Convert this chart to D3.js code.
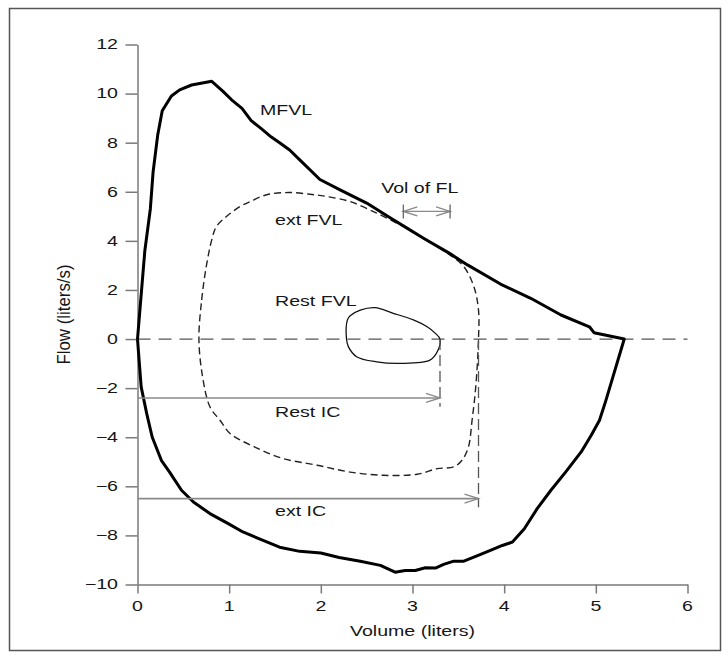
<!DOCTYPE html>
<html><head><meta charset="utf-8">
<script src="https://cdn.jsdelivr.net/npm/d3@7"></script>
<style>html,body{margin:0;padding:0;background:#fff}</style>
</head><body>
<svg id="chart" width="728" height="657"></svg>
<script>
// Maximal flow-volume loop (MFVL): expiration on top, inspiration below
const mfvlVolume = [0, 0.04, 0.08, 0.14, 0.17, 0.22, 0.27, 0.37, 0.46, 0.59, 0.81, 0.93, 1.04, 1.14, 1.24, 1.35, 1.46, 1.55, 1.66, 1.77, 1.99, 2.21, 2.50, 2.76, 2.94, 3.12, 3.40, 3.60, 3.96, 4.29, 4.62, 4.93, 4.98, 5.31,
  5.11, 5.04, 4.95, 4.84, 4.67, 4.51, 4.36, 4.22, 4.09, 3.98, 3.85, 3.71, 3.56, 3.45, 3.34, 3.25, 3.14, 3.03, 2.92, 2.81, 2.65, 2.43, 2.20, 2.00, 1.77, 1.55, 1.33, 1.15, 0.99, 0.79, 0.61, 0.48, 0.35, 0.26, 0.16, 0.10, 0.04, 0];
const mfvlFlow = [0, 1.8, 3.6, 5.3, 6.8, 8.3, 9.3, 9.9, 10.15, 10.35, 10.5, 10.1, 9.7, 9.4, 8.9, 8.57, 8.23, 8.0, 7.7, 7.3, 6.5, 6.08, 5.54, 4.93, 4.52, 4.11, 3.50, 3.02, 2.24, 1.66, 0.98, 0.50, 0.26, 0,
  -2.5, -3.31, -3.92, -4.6, -5.42, -6.16, -6.91, -7.73, -8.27, -8.41, -8.61, -8.82, -9.05, -9.05, -9.18, -9.33, -9.32, -9.43, -9.43, -9.5, -9.22, -9.05, -8.9, -8.72, -8.65, -8.48, -8.14, -7.86, -7.52, -7.11, -6.64, -6.16, -5.42, -4.94, -3.99, -3.03, -1.95, 0];

// Exercise tidal flow-volume loop (ext FVL)
const extVolume = [0.67, 0.70, 0.75, 0.81, 0.86, 0.97, 1.12, 1.23, 1.41, 1.65, 1.88, 2.06, 2.32, 2.61, 2.83, 2.94, 3.12, 3.40, 3.56, 3.67, 3.72, 3.72, 3.69, 3.65, 3.61, 3.54, 3.45, 3.27, 3.05, 2.68, 2.32, 1.96, 1.59, 1.28, 1.01, 0.90, 0.79, 0.71];
const extFlow = [0, 1.59, 2.95, 4.04, 4.58, 4.99, 5.4, 5.6, 5.88, 5.97, 5.9, 5.81, 5.6, 5.13, 4.72, 4.52, 4.11, 3.45, 2.95, 2.13, 1.18, 0, -1.95, -3.31, -4.4, -4.94, -5.21, -5.28, -5.51, -5.55, -5.42, -5.14, -4.87, -4.4, -3.85, -3.31, -2.76, -1.54];

// Resting tidal flow-volume loop (Rest FVL)
const restVolume = [2.28, 2.29, 2.32, 2.43, 2.59, 2.79, 3.01, 3.16, 3.25, 3.30, 3.27, 3.19, 2.87, 2.61, 2.39, 2.30];
const restFlow = [0, 0.78, 0.95, 1.18, 1.28, 1.05, 0.78, 0.50, 0.23, 0, -0.52, -0.86, -0.99, -0.93, -0.72, -0.31];

// Inspiratory capacities and volume of flow limitation
const restIC = 3.30, restICFlow = -2.4, restICDrop = -2.76;
const extIC = 3.72, extICFlow = -6.5, extICDrop = -6.85;
const volFLStart = 2.90, volFLEnd = 3.41, volFLFlow = 5.2;

// Axis ticks
const xTicks = [0, 1, 2, 3, 4, 5, 6];
const xTickLabels = ["0", "1", "2", "3", "4", "5", "6"];
const yTicks = [-10, -8, -6, -4, -2, 0, 2, 4, 6, 8, 10, 12];
const yTickLabels = ["\u221210", "\u22128", "\u22126", "\u22124", "\u22122", "0", "2", "4", "6", "8", "10", "12"];

const svg = d3.select("#chart");
const FONT = "'Liberation Sans', Arial, Helvetica, sans-serif";
const SX = 1.4; // horizontal stretch of the lettering

const x = d3.scaleLinear().domain([0, 6]).range([137.5, 687.5]);
const y = d3.scaleLinear().domain([-10, 12]).range([584.5, 44.5]);

// outer frame
svg.append("rect").attr("x", 9.5).attr("y", 8.5).attr("width", 711).attr("height", 642)
  .attr("fill", "none").attr("stroke", "#555").attr("stroke-width", 1.5);

// axes
const axisColor = "#7a7a7a";
const gx = svg.append("g").attr("transform", `translate(0,${y(-10)})`)
  .call(d3.axisBottom(x).tickValues(xTicks).tickFormat("").tickSizeInner(9).tickSizeOuter(0));
const gy = svg.append("g").attr("transform", `translate(${x(0)},0)`)
  .call(d3.axisLeft(y).tickValues(yTicks).tickFormat("").tickSizeInner(12).tickSizeOuter(0));
[gx, gy].forEach(g => {
  g.selectAll("path, line").attr("stroke", axisColor).attr("stroke-width", 1.5);
});

function label(txt, px, py, anchor, size) {
  return svg.append("text")
    .attr("transform", `translate(${px},${py}) scale(${SX},1)`)
    .attr("dy", "0.35em")
    .attr("text-anchor", anchor)
    .attr("font-family", FONT)
    .attr("font-size", size || 14)
    .attr("fill", "#161616")
    .text(txt);
}

xTicks.forEach((t, i) => label(xTickLabels[i], x(t), 606.5, "middle"));
yTicks.forEach((t, i) => label(yTickLabels[i], 118, y(t), "end"));

// axis titles
label("Volume (liters)", (x(0) + x(6)) / 2, 631, "middle");
svg.append("text")
  .attr("transform", `translate(64,${(y(-10) + y(12)) / 2}) scale(1.25,1) rotate(-90)`)
  .attr("dy", "0.35em").attr("text-anchor", "middle")
  .attr("font-family", FONT).attr("font-size", 14).attr("fill", "#161616")
  .attr("textLength", 100).attr("lengthAdjust", "spacingAndGlyphs")
  .text("Flow (liters/s)");

// zero-flow reference line
svg.append("line")
  .attr("x1", x(0)).attr("x2", x(6)).attr("y1", y(0)).attr("y2", y(0))
  .attr("stroke", "#555").attr("stroke-width", 1.3).attr("stroke-dasharray", "13,8");

// loops
const line = d3.line().x(d => x(d[0])).y(d => y(d[1]));
const zip = (a, b) => a.map((v, i) => [v, b[i]]);

svg.append("path")
  .attr("d", line.curve(d3.curveCatmullRomClosed.alpha(0.5))(zip(extVolume, extFlow)))
  .attr("fill", "none").attr("stroke", "#222").attr("stroke-width", 1.4)
  .attr("stroke-dasharray", "7,4");

svg.append("path")
  .attr("d", line.curve(d3.curveCatmullRomClosed.alpha(0.5))(zip(restVolume, restFlow)))
  .attr("fill", "none").attr("stroke", "#111").attr("stroke-width", 1.3);

svg.append("path")
  .attr("d", line.curve(d3.curveLinear)(zip(mfvlVolume, mfvlFlow)))
  .attr("fill", "none").attr("stroke", "#000").attr("stroke-width", 3)
  .attr("stroke-linejoin", "round");

// IC drop lines
[[restIC, restICDrop], [extIC, extICDrop]].forEach(([v, f]) => {
  svg.append("line")
    .attr("x1", x(v)).attr("x2", x(v)).attr("y1", y(0)).attr("y2", y(f))
    .attr("stroke", "#555").attr("stroke-width", 1.3).attr("stroke-dasharray", "11,5");
});

// arrows
const arrowColor = "#8a8a8a";
function chevron(px, py, dir) {
  svg.append("path")
    .attr("d", `M${px - dir * 14},${py - 4.5}L${px},${py}L${px - dir * 14},${py + 4.5}`)
    .attr("fill", "none").attr("stroke", arrowColor).attr("stroke-width", 1.4);
}
[[restIC, restICFlow], [extIC, extICFlow]].forEach(([v, f]) => {
  svg.append("line")
    .attr("x1", x(0)).attr("x2", x(v)).attr("y1", y(f)).attr("y2", y(f))
    .attr("stroke", arrowColor).attr("stroke-width", 1.6);
  chevron(x(v), y(f), 1);
});

// volume of flow limitation
svg.append("line")
  .attr("x1", x(volFLStart)).attr("x2", x(volFLEnd)).attr("y1", y(volFLFlow)).attr("y2", y(volFLFlow))
  .attr("stroke", arrowColor).attr("stroke-width", 1.4);
chevron(x(volFLStart), y(volFLFlow), -1);
chevron(x(volFLEnd), y(volFLFlow), 1);
[volFLStart, volFLEnd].forEach(v => {
  svg.append("line")
    .attr("x1", x(v)).attr("x2", x(v)).attr("y1", y(volFLFlow) - 7).attr("y2", y(volFLFlow) + 7)
    .attr("stroke", "#666").attr("stroke-width", 1.3);
});

// annotations
label("MFVL", x(1.336), y(9.33), "start");
label("Vol of FL", x(3.08), y(6.15), "middle");
label("ext FVL", x(1.50), y(4.85), "start");
label("Rest FVL", x(1.50), y(1.56), "start");
label("Rest IC", x(1.50), y(-2.99), "start");
label("ext IC", x(1.50), y(-7.0), "start");
</script>
</body></html>
